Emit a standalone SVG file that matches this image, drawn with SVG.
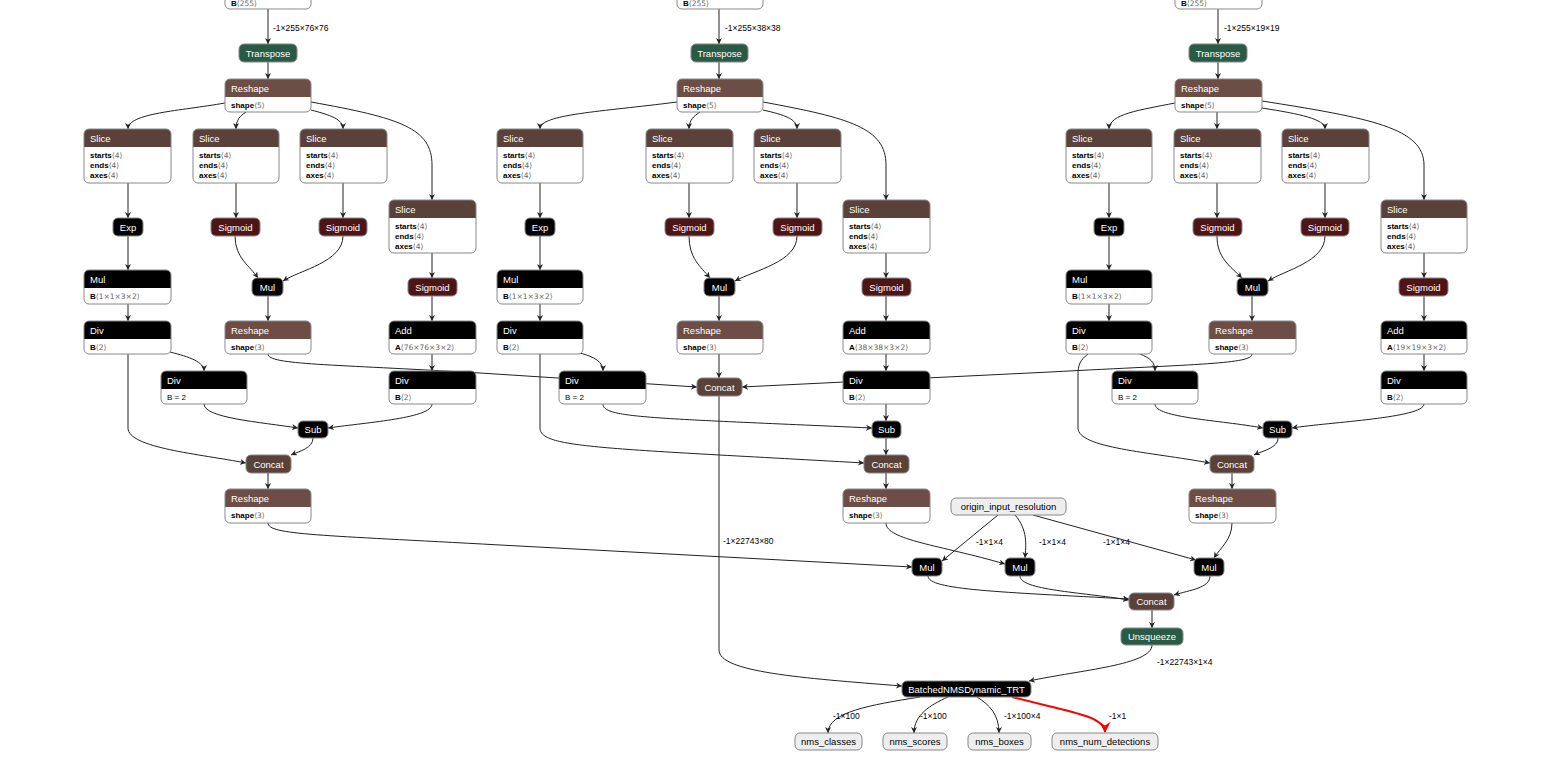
<svg xmlns="http://www.w3.org/2000/svg" width="1545" height="782" viewBox="0 0 1545 782">
<style>
text{font-family:"Liberation Sans","DejaVu Sans",sans-serif}
.bg{fill:#fff}
.bd{fill:none;stroke:#888;stroke-width:1}
.ten{fill:#5a4139}
.shp{fill:#6c4e46}
.act{fill:#4e1517}
.op{fill:#000}
.tr{fill:#285a46}
.io{fill:#eee;stroke:#888;stroke-width:1}
.t{font-size:9.5px;fill:#fff}
.tc{font-size:9.5px;fill:#fff;text-anchor:middle}
.to{font-size:9.5px;fill:#000;text-anchor:middle}
.a{font-size:8px;fill:#000}
.an{font-weight:bold;fill:#000}
.av{fill:#666;font-family:"DejaVu Sans","Liberation Sans",sans-serif;font-size:7.5px}
.el{font-size:8.5px;fill:#000}
.e{fill:none;stroke:#222;stroke-width:1;marker-end:url(#ah)}
.er{fill:none;stroke:#f00;stroke-width:2;marker-end:url(#ahr)}
</style>
<defs>
<marker id="ah" viewBox="0 0 10 10" refX="10" refY="5" markerWidth="6" markerHeight="6" orient="auto"><path d="M0,0 L10,5 L0,10 L3,5 z" fill="#222"/></marker>
<marker id="ahr" viewBox="0 0 10 10" refX="9" refY="5" markerWidth="11" markerHeight="11" markerUnits="userSpaceOnUse" orient="auto"><path d="M0,0 L10,5 L0,10 L3,5 z" fill="#f00"/></marker>
</defs>

<g id="connectors">
<path class="e" d="M268 9 V44"/>
<path class="e" d="M268 62 V79"/>
<path class="e" d="M225 103 C180 111 128 113 128 129"/>
<path class="e" d="M246 112 C240 116 236 120 236 129"/>
<path class="e" d="M311 110 C330 115 343 119 343 129"/>
<path class="e" d="M311 102 C400 118 432 128 432 165 V200"/>
<path class="e" d="M128 183 V218"/>
<path class="e" d="M236 183 V218"/>
<path class="e" d="M343 183 V218"/>
<path class="e" d="M432 253 V278"/>
<path class="e" d="M128 236 V270"/>
<path class="e" d="M235 236 C235 258 250 266 258 278"/>
<path class="e" d="M343 236 C343 262 300 270 283 281"/>
<path class="e" d="M128 304 V321"/>
<path class="e" d="M268 296 V321"/>
<path class="e" d="M432 296 V321"/>
<path class="e" d="M170 352 C190 357 204 362 204 371"/>
<path class="e" d="M128 354 V428 C128 448 200 454 246 463"/>
<path class="e" d="M432 354 V371"/>
<path class="e" d="M204 404 C204 418 260 422 298 428"/>
<path class="e" d="M432 404 C432 418 370 422 328 428"/>
<path class="e" d="M313 438 C313 448 300 451 291 455"/>
<path class="e" d="M268 473 V489"/>
<path class="e" d="M268 354 C268 365 330 364 480 373 L697 387"/>
<path class="e" d="M268 523 C268 535 320 535 500 545 L912 567"/>

<path class="e" d="M719 9 V44"/>
<path class="e" d="M719 62 V79"/>
<path class="e" d="M677 102 C600 112 540 114 540 129"/>
<path class="e" d="M700 112 C694 116 689 120 689 129"/>
<path class="e" d="M763 110 C785 115 797 119 797 129"/>
<path class="e" d="M763 102 C850 118 886 128 886 165 V200"/>
<path class="e" d="M540 183 V218"/>
<path class="e" d="M689 183 V218"/>
<path class="e" d="M797 183 V218"/>
<path class="e" d="M886 253 V278"/>
<path class="e" d="M540 236 V270"/>
<path class="e" d="M689 236 C689 258 700 266 710 278"/>
<path class="e" d="M797 236 C797 262 755 270 735 281"/>
<path class="e" d="M540 304 V321"/>
<path class="e" d="M719 296 V321"/>
<path class="e" d="M886 296 V321"/>
<path class="e" d="M580 353 C595 357 603 362 603 371"/>
<path class="e" d="M540 354 V428 C540 448 600 448 864 463"/>
<path class="e" d="M719 354 V378"/>
<path class="e" d="M886 354 V371"/>
<path class="e" d="M603 404 C603 418 650 418 872 428"/>
<path class="e" d="M886 404 V421"/>
<path class="e" d="M886 438 V455"/>
<path class="e" d="M886 473 V489"/>
<path class="e" d="M719 396 V650 C719 672 800 678 902 686"/>
<path class="e" d="M886 523 C886 540 940 545 1005 564"/>

<path class="e" d="M1218 9 V44"/>
<path class="e" d="M1218 62 V79"/>
<path class="e" d="M1175 103 C1140 110 1109 114 1109 129"/>
<path class="e" d="M1217 112 V129"/>
<path class="e" d="M1262 108 C1300 114 1325 119 1325 129"/>
<path class="e" d="M1262 101 C1370 118 1424 128 1424 165 V200"/>
<path class="e" d="M1109 183 V218"/>
<path class="e" d="M1217 183 V218"/>
<path class="e" d="M1325 183 V218"/>
<path class="e" d="M1424 253 V278"/>
<path class="e" d="M1109 236 V270"/>
<path class="e" d="M1217 236 C1217 258 1230 266 1242 278"/>
<path class="e" d="M1325 236 C1325 262 1285 270 1268 281"/>
<path class="e" d="M1109 304 V321"/>
<path class="e" d="M1252 296 V321"/>
<path class="e" d="M1424 296 V321"/>
<path class="e" d="M1140 354 C1150 358 1155 362 1155 371"/>
<path class="e" d="M1088 354 C1080 360 1078 365 1078 375 V428 C1078 448 1150 452 1210 463"/>
<path class="e" d="M1424 354 V371"/>
<path class="e" d="M1155 404 C1155 418 1220 420 1263 428"/>
<path class="e" d="M1424 404 C1424 418 1330 422 1292 428"/>
<path class="e" d="M1278 438 C1278 448 1262 451 1254 455"/>
<path class="e" d="M1232 473 V489"/>
<path class="e" d="M1252 354 C1252 364 1200 364 1050 372 L742 387"/>
<path class="e" d="M1232 523 C1232 540 1220 548 1214 558"/>

<path class="e" d="M998 515 L942 561"/>
<path class="e" d="M1015 515 C1028 530 1026 545 1025 558"/>
<path class="e" d="M1033 515 L1196 560"/>
<path class="e" d="M928 576 C928 590 1000 592 1129 599"/>
<path class="e" d="M1020 576 C1020 590 1080 592 1129 600"/>
<path class="e" d="M1210 576 C1210 588 1190 590 1174 595"/>
<path class="e" d="M1152 610 V628"/>
<path class="e" d="M1152 645 C1152 665 1080 670 1029 681"/>
<path class="e" d="M920 697 C870 705 828 712 828 733"/>
<path class="e" d="M948 697 C930 705 914 715 914 733"/>
<path class="e" d="M977 697 C990 705 999 715 999 733"/>
<path class="er" d="M1012 697 C1060 710 1105 715 1105 732"/>

<text class="el" x="273" y="31">-1×255×76×76</text>
<text class="el" x="725" y="31">-1×255×38×38</text>
<text class="el" x="1224" y="31">-1×255×19×19</text>
<text class="el" x="723" y="544">-1×22743×80</text>
<text class="el" x="976" y="545">-1×1×4</text>
<text class="el" x="1039" y="545">-1×1×4</text>
<text class="el" x="1103" y="545">-1×1×4</text>
<text class="el" x="1157" y="665">-1×22743×1×4</text>
<text class="el" x="833" y="719">-1×100</text>
<text class="el" x="920" y="719">-1×100</text>
<text class="el" x="1004" y="719">-1×100×4</text>
<text class="el" x="1109" y="719">-1×1</text>
</g>

<!-- Column A -->
<g id="topA"><rect class="bg" x="225" y="-20" width="86" height="29" rx="5"/><rect class="bd" x="225" y="-20" width="86" height="29" rx="5"/><text class="a" x="231" y="6"><tspan class="an">B</tspan><tspan class="av">⟨255⟩</tspan></text></g>
<g id="transA"><rect class="tr" x="239" y="44" width="58" height="18" rx="5"/><rect class="bd" x="239" y="44" width="58" height="18" rx="5"/><text class="tc" x="268" y="56.5">Transpose</text></g>
<g id="reshA1"><rect class="bg" x="225" y="79" width="86" height="33" rx="5"/><rect class="shp" x="225" y="79" width="86" height="18" rx="5"/><rect class="shp" x="225" y="89" width="86" height="8"/><rect class="bd" x="225" y="79" width="86" height="33" rx="5"/><text class="t" x="231" y="91.5">Reshape</text><text class="a" x="231" y="107.5"><tspan class="an">shape</tspan><tspan class="av">⟨5⟩</tspan></text></g>
<g id="sliceA1"><rect class="bg" x="84" y="129" width="87" height="54" rx="5"/><rect class="ten" x="84" y="129" width="87" height="18" rx="5"/><rect class="ten" x="84" y="139" width="87" height="8"/><rect class="bd" x="84" y="129" width="87" height="54" rx="5"/><text class="t" x="90" y="141.5">Slice</text><text class="a" x="90" y="157.5"><tspan class="an">starts</tspan><tspan class="av">⟨4⟩</tspan></text><text class="a" x="90" y="167.5"><tspan class="an">ends</tspan><tspan class="av">⟨4⟩</tspan></text><text class="a" x="90" y="177.5"><tspan class="an">axes</tspan><tspan class="av">⟨4⟩</tspan></text></g>
<g id="sliceA2"><rect class="bg" x="193" y="129" width="86" height="54" rx="5"/><rect class="ten" x="193" y="129" width="86" height="18" rx="5"/><rect class="ten" x="193" y="139" width="86" height="8"/><rect class="bd" x="193" y="129" width="86" height="54" rx="5"/><text class="t" x="199" y="141.5">Slice</text><text class="a" x="199" y="157.5"><tspan class="an">starts</tspan><tspan class="av">⟨4⟩</tspan></text><text class="a" x="199" y="167.5"><tspan class="an">ends</tspan><tspan class="av">⟨4⟩</tspan></text><text class="a" x="199" y="177.5"><tspan class="an">axes</tspan><tspan class="av">⟨4⟩</tspan></text></g>
<g id="sliceA3"><rect class="bg" x="300" y="129" width="87" height="54" rx="5"/><rect class="ten" x="300" y="129" width="87" height="18" rx="5"/><rect class="ten" x="300" y="139" width="87" height="8"/><rect class="bd" x="300" y="129" width="87" height="54" rx="5"/><text class="t" x="306" y="141.5">Slice</text><text class="a" x="306" y="157.5"><tspan class="an">starts</tspan><tspan class="av">⟨4⟩</tspan></text><text class="a" x="306" y="167.5"><tspan class="an">ends</tspan><tspan class="av">⟨4⟩</tspan></text><text class="a" x="306" y="177.5"><tspan class="an">axes</tspan><tspan class="av">⟨4⟩</tspan></text></g>
<g id="sliceA4"><rect class="bg" x="389" y="200" width="87" height="53" rx="5"/><rect class="ten" x="389" y="200" width="87" height="18" rx="5"/><rect class="ten" x="389" y="210" width="87" height="8"/><rect class="bd" x="389" y="200" width="87" height="53" rx="5"/><text class="t" x="395" y="212.5">Slice</text><text class="a" x="395" y="228.5"><tspan class="an">starts</tspan><tspan class="av">⟨4⟩</tspan></text><text class="a" x="395" y="238.5"><tspan class="an">ends</tspan><tspan class="av">⟨4⟩</tspan></text><text class="a" x="395" y="248.5"><tspan class="an">axes</tspan><tspan class="av">⟨4⟩</tspan></text></g>
<g id="expA"><rect class="op" x="113" y="218" width="30" height="18" rx="5"/><rect class="bd" x="113" y="218" width="30" height="18" rx="5"/><text class="tc" x="128" y="230.5">Exp</text></g>
<g id="sigA1"><rect class="act" x="211" y="218" width="49" height="18" rx="5"/><rect class="bd" x="211" y="218" width="49" height="18" rx="5"/><text class="tc" x="235.5" y="230.5">Sigmoid</text></g>
<g id="sigA2"><rect class="act" x="319" y="218" width="48" height="18" rx="5"/><rect class="bd" x="319" y="218" width="48" height="18" rx="5"/><text class="tc" x="343" y="230.5">Sigmoid</text></g>
<g id="mulA1"><rect class="bg" x="84" y="270" width="87" height="34" rx="5"/><rect class="op" x="84" y="270" width="87" height="18" rx="5"/><rect class="op" x="84" y="280" width="87" height="8"/><rect class="bd" x="84" y="270" width="87" height="34" rx="5"/><text class="t" x="90" y="282.5">Mul</text><text class="a" x="90" y="299"><tspan class="an">B</tspan><tspan class="av">⟨1×1×3×2⟩</tspan></text></g>
<g id="mulA2"><rect class="op" x="252" y="278" width="31" height="18" rx="5"/><rect class="bd" x="252" y="278" width="31" height="18" rx="5"/><text class="tc" x="267.5" y="290.5">Mul</text></g>
<g id="sigA3"><rect class="act" x="408" y="278" width="49" height="18" rx="5"/><rect class="bd" x="408" y="278" width="49" height="18" rx="5"/><text class="tc" x="432.5" y="290.5">Sigmoid</text></g>
<g id="divA1"><rect class="bg" x="84" y="321" width="87" height="33" rx="5"/><rect class="op" x="84" y="321" width="87" height="18" rx="5"/><rect class="op" x="84" y="331" width="87" height="8"/><rect class="bd" x="84" y="321" width="87" height="33" rx="5"/><text class="t" x="90" y="333.5">Div</text><text class="a" x="90" y="349.5"><tspan class="an">B</tspan><tspan class="av">⟨2⟩</tspan></text></g>
<g id="reshA2"><rect class="bg" x="225" y="321" width="86" height="33" rx="5"/><rect class="shp" x="225" y="321" width="86" height="18" rx="5"/><rect class="shp" x="225" y="331" width="86" height="8"/><rect class="bd" x="225" y="321" width="86" height="33" rx="5"/><text class="t" x="231" y="333.5">Reshape</text><text class="a" x="231" y="349.5"><tspan class="an">shape</tspan><tspan class="av">⟨3⟩</tspan></text></g>
<g id="addA"><rect class="bg" x="389" y="321" width="87" height="33" rx="5"/><rect class="op" x="389" y="321" width="87" height="18" rx="5"/><rect class="op" x="389" y="331" width="87" height="8"/><rect class="bd" x="389" y="321" width="87" height="33" rx="5"/><text class="t" x="395" y="333.5">Add</text><text class="a" x="395" y="349.5"><tspan class="an">A</tspan><tspan class="av">⟨76×76×3×2⟩</tspan></text></g>
<g id="divA2"><rect class="bg" x="161" y="371" width="86" height="33" rx="5"/><rect class="op" x="161" y="371" width="86" height="18" rx="5"/><rect class="op" x="161" y="381" width="86" height="8"/><rect class="bd" x="161" y="371" width="86" height="33" rx="5"/><text class="t" x="167" y="383.5">Div</text><text class="a" x="167" y="399.5">B = 2</text></g>
<g id="divA3"><rect class="bg" x="389" y="371" width="87" height="33" rx="5"/><rect class="op" x="389" y="371" width="87" height="18" rx="5"/><rect class="op" x="389" y="381" width="87" height="8"/><rect class="bd" x="389" y="371" width="87" height="33" rx="5"/><text class="t" x="395" y="383.5">Div</text><text class="a" x="395" y="399.5"><tspan class="an">B</tspan><tspan class="av">⟨2⟩</tspan></text></g>
<g id="subA"><rect class="op" x="298" y="421" width="30" height="17" rx="5"/><rect class="bd" x="298" y="421" width="30" height="17" rx="5"/><text class="tc" x="313" y="433">Sub</text></g>
<g id="concatA"><rect class="ten" x="246" y="455" width="45" height="18" rx="5"/><rect class="bd" x="246" y="455" width="45" height="18" rx="5"/><text class="tc" x="268.5" y="467.5">Concat</text></g>
<g id="reshA3"><rect class="bg" x="225" y="489" width="86" height="34" rx="5"/><rect class="shp" x="225" y="489" width="86" height="18" rx="5"/><rect class="shp" x="225" y="499" width="86" height="8"/><rect class="bd" x="225" y="489" width="86" height="34" rx="5"/><text class="t" x="231" y="501.5">Reshape</text><text class="a" x="231" y="518"><tspan class="an">shape</tspan><tspan class="av">⟨3⟩</tspan></text></g>

<!-- Column B -->
<g id="topB"><rect class="bg" x="677" y="-20" width="86" height="29" rx="5"/><rect class="bd" x="677" y="-20" width="86" height="29" rx="5"/><text class="a" x="683" y="6"><tspan class="an">B</tspan><tspan class="av">⟨255⟩</tspan></text></g>
<g id="transB"><rect class="tr" x="691" y="44" width="57" height="18" rx="5"/><rect class="bd" x="691" y="44" width="57" height="18" rx="5"/><text class="tc" x="719.5" y="56.5">Transpose</text></g>
<g id="reshB1"><rect class="bg" x="677" y="79" width="86" height="33" rx="5"/><rect class="shp" x="677" y="79" width="86" height="18" rx="5"/><rect class="shp" x="677" y="89" width="86" height="8"/><rect class="bd" x="677" y="79" width="86" height="33" rx="5"/><text class="t" x="683" y="91.5">Reshape</text><text class="a" x="683" y="107.5"><tspan class="an">shape</tspan><tspan class="av">⟨5⟩</tspan></text></g>
<g id="sliceB1"><rect class="bg" x="497" y="129" width="86" height="54" rx="5"/><rect class="ten" x="497" y="129" width="86" height="18" rx="5"/><rect class="ten" x="497" y="139" width="86" height="8"/><rect class="bd" x="497" y="129" width="86" height="54" rx="5"/><text class="t" x="503" y="141.5">Slice</text><text class="a" x="503" y="157.5"><tspan class="an">starts</tspan><tspan class="av">⟨4⟩</tspan></text><text class="a" x="503" y="167.5"><tspan class="an">ends</tspan><tspan class="av">⟨4⟩</tspan></text><text class="a" x="503" y="177.5"><tspan class="an">axes</tspan><tspan class="av">⟨4⟩</tspan></text></g>
<g id="sliceB2"><rect class="bg" x="646" y="129" width="87" height="54" rx="5"/><rect class="ten" x="646" y="129" width="87" height="18" rx="5"/><rect class="ten" x="646" y="139" width="87" height="8"/><rect class="bd" x="646" y="129" width="87" height="54" rx="5"/><text class="t" x="652" y="141.5">Slice</text><text class="a" x="652" y="157.5"><tspan class="an">starts</tspan><tspan class="av">⟨4⟩</tspan></text><text class="a" x="652" y="167.5"><tspan class="an">ends</tspan><tspan class="av">⟨4⟩</tspan></text><text class="a" x="652" y="177.5"><tspan class="an">axes</tspan><tspan class="av">⟨4⟩</tspan></text></g>
<g id="sliceB3"><rect class="bg" x="754" y="129" width="87" height="54" rx="5"/><rect class="ten" x="754" y="129" width="87" height="18" rx="5"/><rect class="ten" x="754" y="139" width="87" height="8"/><rect class="bd" x="754" y="129" width="87" height="54" rx="5"/><text class="t" x="760" y="141.5">Slice</text><text class="a" x="760" y="157.5"><tspan class="an">starts</tspan><tspan class="av">⟨4⟩</tspan></text><text class="a" x="760" y="167.5"><tspan class="an">ends</tspan><tspan class="av">⟨4⟩</tspan></text><text class="a" x="760" y="177.5"><tspan class="an">axes</tspan><tspan class="av">⟨4⟩</tspan></text></g>
<g id="sliceB4"><rect class="bg" x="843" y="200" width="87" height="53" rx="5"/><rect class="ten" x="843" y="200" width="87" height="18" rx="5"/><rect class="ten" x="843" y="210" width="87" height="8"/><rect class="bd" x="843" y="200" width="87" height="53" rx="5"/><text class="t" x="849" y="212.5">Slice</text><text class="a" x="849" y="228.5"><tspan class="an">starts</tspan><tspan class="av">⟨4⟩</tspan></text><text class="a" x="849" y="238.5"><tspan class="an">ends</tspan><tspan class="av">⟨4⟩</tspan></text><text class="a" x="849" y="248.5"><tspan class="an">axes</tspan><tspan class="av">⟨4⟩</tspan></text></g>
<g id="expB"><rect class="op" x="525" y="218" width="30" height="18" rx="5"/><rect class="bd" x="525" y="218" width="30" height="18" rx="5"/><text class="tc" x="540" y="230.5">Exp</text></g>
<g id="sigB1"><rect class="act" x="665" y="218" width="49" height="18" rx="5"/><rect class="bd" x="665" y="218" width="49" height="18" rx="5"/><text class="tc" x="689.5" y="230.5">Sigmoid</text></g>
<g id="sigB2"><rect class="act" x="773" y="218" width="49" height="18" rx="5"/><rect class="bd" x="773" y="218" width="49" height="18" rx="5"/><text class="tc" x="797.5" y="230.5">Sigmoid</text></g>
<g id="mulB1"><rect class="bg" x="497" y="270" width="86" height="34" rx="5"/><rect class="op" x="497" y="270" width="86" height="18" rx="5"/><rect class="op" x="497" y="280" width="86" height="8"/><rect class="bd" x="497" y="270" width="86" height="34" rx="5"/><text class="t" x="503" y="282.5">Mul</text><text class="a" x="503" y="299"><tspan class="an">B</tspan><tspan class="av">⟨1×1×3×2⟩</tspan></text></g>
<g id="mulB2"><rect class="op" x="704" y="278" width="31" height="18" rx="5"/><rect class="bd" x="704" y="278" width="31" height="18" rx="5"/><text class="tc" x="719.5" y="290.5">Mul</text></g>
<g id="sigB3"><rect class="act" x="862" y="278" width="49" height="18" rx="5"/><rect class="bd" x="862" y="278" width="49" height="18" rx="5"/><text class="tc" x="886.5" y="290.5">Sigmoid</text></g>
<g id="divB1"><rect class="bg" x="497" y="321" width="86" height="33" rx="5"/><rect class="op" x="497" y="321" width="86" height="18" rx="5"/><rect class="op" x="497" y="331" width="86" height="8"/><rect class="bd" x="497" y="321" width="86" height="33" rx="5"/><text class="t" x="503" y="333.5">Div</text><text class="a" x="503" y="349.5"><tspan class="an">B</tspan><tspan class="av">⟨2⟩</tspan></text></g>
<g id="reshB2"><rect class="bg" x="677" y="321" width="86" height="33" rx="5"/><rect class="shp" x="677" y="321" width="86" height="18" rx="5"/><rect class="shp" x="677" y="331" width="86" height="8"/><rect class="bd" x="677" y="321" width="86" height="33" rx="5"/><text class="t" x="683" y="333.5">Reshape</text><text class="a" x="683" y="349.5"><tspan class="an">shape</tspan><tspan class="av">⟨3⟩</tspan></text></g>
<g id="addB"><rect class="bg" x="843" y="321" width="87" height="33" rx="5"/><rect class="op" x="843" y="321" width="87" height="18" rx="5"/><rect class="op" x="843" y="331" width="87" height="8"/><rect class="bd" x="843" y="321" width="87" height="33" rx="5"/><text class="t" x="849" y="333.5">Add</text><text class="a" x="849" y="349.5"><tspan class="an">A</tspan><tspan class="av">⟨38×38×3×2⟩</tspan></text></g>
<g id="divB2"><rect class="bg" x="559" y="371" width="87" height="33" rx="5"/><rect class="op" x="559" y="371" width="87" height="18" rx="5"/><rect class="op" x="559" y="381" width="87" height="8"/><rect class="bd" x="559" y="371" width="87" height="33" rx="5"/><text class="t" x="565" y="383.5">Div</text><text class="a" x="565" y="399.5">B = 2</text></g>
<g id="concatBig"><rect class="ten" x="697" y="378" width="45" height="18" rx="5"/><rect class="bd" x="697" y="378" width="45" height="18" rx="5"/><text class="tc" x="719.5" y="390.5">Concat</text></g>
<g id="divB3"><rect class="bg" x="843" y="371" width="87" height="33" rx="5"/><rect class="op" x="843" y="371" width="87" height="18" rx="5"/><rect class="op" x="843" y="381" width="87" height="8"/><rect class="bd" x="843" y="371" width="87" height="33" rx="5"/><text class="t" x="849" y="383.5">Div</text><text class="a" x="849" y="399.5"><tspan class="an">B</tspan><tspan class="av">⟨2⟩</tspan></text></g>
<g id="subB"><rect class="op" x="872" y="421" width="29" height="17" rx="5"/><rect class="bd" x="872" y="421" width="29" height="17" rx="5"/><text class="tc" x="886.5" y="433">Sub</text></g>
<g id="concatB"><rect class="ten" x="864" y="455" width="45" height="18" rx="5"/><rect class="bd" x="864" y="455" width="45" height="18" rx="5"/><text class="tc" x="886.5" y="467.5">Concat</text></g>
<g id="reshB3"><rect class="bg" x="843" y="489" width="87" height="34" rx="5"/><rect class="shp" x="843" y="489" width="87" height="18" rx="5"/><rect class="shp" x="843" y="499" width="87" height="8"/><rect class="bd" x="843" y="489" width="87" height="34" rx="5"/><text class="t" x="849" y="501.5">Reshape</text><text class="a" x="849" y="518"><tspan class="an">shape</tspan><tspan class="av">⟨3⟩</tspan></text></g>

<!-- Column C -->
<g id="topC"><rect class="bg" x="1175" y="-20" width="87" height="29" rx="5"/><rect class="bd" x="1175" y="-20" width="87" height="29" rx="5"/><text class="a" x="1181" y="6"><tspan class="an">B</tspan><tspan class="av">⟨255⟩</tspan></text></g>
<g id="transC"><rect class="tr" x="1189" y="44" width="58" height="18" rx="5"/><rect class="bd" x="1189" y="44" width="58" height="18" rx="5"/><text class="tc" x="1218" y="56.5">Transpose</text></g>
<g id="reshC1"><rect class="bg" x="1175" y="79" width="87" height="33" rx="5"/><rect class="shp" x="1175" y="79" width="87" height="18" rx="5"/><rect class="shp" x="1175" y="89" width="87" height="8"/><rect class="bd" x="1175" y="79" width="87" height="33" rx="5"/><text class="t" x="1181" y="91.5">Reshape</text><text class="a" x="1181" y="107.5"><tspan class="an">shape</tspan><tspan class="av">⟨5⟩</tspan></text></g>
<g id="sliceC1"><rect class="bg" x="1066" y="129" width="86" height="54" rx="5"/><rect class="ten" x="1066" y="129" width="86" height="18" rx="5"/><rect class="ten" x="1066" y="139" width="86" height="8"/><rect class="bd" x="1066" y="129" width="86" height="54" rx="5"/><text class="t" x="1072" y="141.5">Slice</text><text class="a" x="1072" y="157.5"><tspan class="an">starts</tspan><tspan class="av">⟨4⟩</tspan></text><text class="a" x="1072" y="167.5"><tspan class="an">ends</tspan><tspan class="av">⟨4⟩</tspan></text><text class="a" x="1072" y="177.5"><tspan class="an">axes</tspan><tspan class="av">⟨4⟩</tspan></text></g>
<g id="sliceC2"><rect class="bg" x="1174" y="129" width="87" height="54" rx="5"/><rect class="ten" x="1174" y="129" width="87" height="18" rx="5"/><rect class="ten" x="1174" y="139" width="87" height="8"/><rect class="bd" x="1174" y="129" width="87" height="54" rx="5"/><text class="t" x="1180" y="141.5">Slice</text><text class="a" x="1180" y="157.5"><tspan class="an">starts</tspan><tspan class="av">⟨4⟩</tspan></text><text class="a" x="1180" y="167.5"><tspan class="an">ends</tspan><tspan class="av">⟨4⟩</tspan></text><text class="a" x="1180" y="177.5"><tspan class="an">axes</tspan><tspan class="av">⟨4⟩</tspan></text></g>
<g id="sliceC3"><rect class="bg" x="1282" y="129" width="87" height="54" rx="5"/><rect class="ten" x="1282" y="129" width="87" height="18" rx="5"/><rect class="ten" x="1282" y="139" width="87" height="8"/><rect class="bd" x="1282" y="129" width="87" height="54" rx="5"/><text class="t" x="1288" y="141.5">Slice</text><text class="a" x="1288" y="157.5"><tspan class="an">starts</tspan><tspan class="av">⟨4⟩</tspan></text><text class="a" x="1288" y="167.5"><tspan class="an">ends</tspan><tspan class="av">⟨4⟩</tspan></text><text class="a" x="1288" y="177.5"><tspan class="an">axes</tspan><tspan class="av">⟨4⟩</tspan></text></g>
<g id="sliceC4"><rect class="bg" x="1381" y="200" width="86" height="53" rx="5"/><rect class="ten" x="1381" y="200" width="86" height="18" rx="5"/><rect class="ten" x="1381" y="210" width="86" height="8"/><rect class="bd" x="1381" y="200" width="86" height="53" rx="5"/><text class="t" x="1387" y="212.5">Slice</text><text class="a" x="1387" y="228.5"><tspan class="an">starts</tspan><tspan class="av">⟨4⟩</tspan></text><text class="a" x="1387" y="238.5"><tspan class="an">ends</tspan><tspan class="av">⟨4⟩</tspan></text><text class="a" x="1387" y="248.5"><tspan class="an">axes</tspan><tspan class="av">⟨4⟩</tspan></text></g>
<g id="expC"><rect class="op" x="1094" y="218" width="30" height="18" rx="5"/><rect class="bd" x="1094" y="218" width="30" height="18" rx="5"/><text class="tc" x="1109" y="230.5">Exp</text></g>
<g id="sigC1"><rect class="act" x="1193" y="218" width="49" height="18" rx="5"/><rect class="bd" x="1193" y="218" width="49" height="18" rx="5"/><text class="tc" x="1217.5" y="230.5">Sigmoid</text></g>
<g id="sigC2"><rect class="act" x="1301" y="218" width="48" height="18" rx="5"/><rect class="bd" x="1301" y="218" width="48" height="18" rx="5"/><text class="tc" x="1325" y="230.5">Sigmoid</text></g>
<g id="mulC1"><rect class="bg" x="1066" y="270" width="86" height="34" rx="5"/><rect class="op" x="1066" y="270" width="86" height="18" rx="5"/><rect class="op" x="1066" y="280" width="86" height="8"/><rect class="bd" x="1066" y="270" width="86" height="34" rx="5"/><text class="t" x="1072" y="282.5">Mul</text><text class="a" x="1072" y="299"><tspan class="an">B</tspan><tspan class="av">⟨1×1×3×2⟩</tspan></text></g>
<g id="mulC2"><rect class="op" x="1237" y="278" width="31" height="18" rx="5"/><rect class="bd" x="1237" y="278" width="31" height="18" rx="5"/><text class="tc" x="1252.5" y="290.5">Mul</text></g>
<g id="sigC3"><rect class="act" x="1399" y="278" width="49" height="18" rx="5"/><rect class="bd" x="1399" y="278" width="49" height="18" rx="5"/><text class="tc" x="1423.5" y="290.5">Sigmoid</text></g>
<g id="divC1"><rect class="bg" x="1066" y="321" width="86" height="33" rx="5"/><rect class="op" x="1066" y="321" width="86" height="18" rx="5"/><rect class="op" x="1066" y="331" width="86" height="8"/><rect class="bd" x="1066" y="321" width="86" height="33" rx="5"/><text class="t" x="1072" y="333.5">Div</text><text class="a" x="1072" y="349.5"><tspan class="an">B</tspan><tspan class="av">⟨2⟩</tspan></text></g>
<g id="reshC2"><rect class="bg" x="1209" y="321" width="87" height="33" rx="5"/><rect class="shp" x="1209" y="321" width="87" height="18" rx="5"/><rect class="shp" x="1209" y="331" width="87" height="8"/><rect class="bd" x="1209" y="321" width="87" height="33" rx="5"/><text class="t" x="1215" y="333.5">Reshape</text><text class="a" x="1215" y="349.5"><tspan class="an">shape</tspan><tspan class="av">⟨3⟩</tspan></text></g>
<g id="addC"><rect class="bg" x="1381" y="321" width="86" height="33" rx="5"/><rect class="op" x="1381" y="321" width="86" height="18" rx="5"/><rect class="op" x="1381" y="331" width="86" height="8"/><rect class="bd" x="1381" y="321" width="86" height="33" rx="5"/><text class="t" x="1387" y="333.5">Add</text><text class="a" x="1387" y="349.5"><tspan class="an">A</tspan><tspan class="av">⟨19×19×3×2⟩</tspan></text></g>
<g id="divC2"><rect class="bg" x="1112" y="371" width="86" height="33" rx="5"/><rect class="op" x="1112" y="371" width="86" height="18" rx="5"/><rect class="op" x="1112" y="381" width="86" height="8"/><rect class="bd" x="1112" y="371" width="86" height="33" rx="5"/><text class="t" x="1118" y="383.5">Div</text><text class="a" x="1118" y="399.5">B = 2</text></g>
<g id="divC3"><rect class="bg" x="1381" y="371" width="86" height="33" rx="5"/><rect class="op" x="1381" y="371" width="86" height="18" rx="5"/><rect class="op" x="1381" y="381" width="86" height="8"/><rect class="bd" x="1381" y="371" width="86" height="33" rx="5"/><text class="t" x="1387" y="383.5">Div</text><text class="a" x="1387" y="399.5"><tspan class="an">B</tspan><tspan class="av">⟨2⟩</tspan></text></g>
<g id="subC"><rect class="op" x="1263" y="421" width="29" height="17" rx="5"/><rect class="bd" x="1263" y="421" width="29" height="17" rx="5"/><text class="tc" x="1277.5" y="433">Sub</text></g>
<g id="concatC"><rect class="ten" x="1210" y="455" width="44" height="18" rx="5"/><rect class="bd" x="1210" y="455" width="44" height="18" rx="5"/><text class="tc" x="1232" y="467.5">Concat</text></g>
<g id="reshC3"><rect class="bg" x="1189" y="489" width="87" height="34" rx="5"/><rect class="shp" x="1189" y="489" width="87" height="18" rx="5"/><rect class="shp" x="1189" y="499" width="87" height="8"/><rect class="bd" x="1189" y="489" width="87" height="34" rx="5"/><text class="t" x="1195" y="501.5">Reshape</text><text class="a" x="1195" y="518"><tspan class="an">shape</tspan><tspan class="av">⟨3⟩</tspan></text></g>

<!-- Bottom -->
<g id="origin"><rect class="io" x="951" y="498" width="115" height="17" rx="5"/><text class="to" x="1008.5" y="510">origin_input_resolution</text></g>
<g id="mulX"><rect class="op" x="912" y="558" width="30" height="18" rx="5"/><rect class="bd" x="912" y="558" width="30" height="18" rx="5"/><text class="tc" x="927" y="570.5">Mul</text></g>
<g id="mulY"><rect class="op" x="1005" y="558" width="30" height="18" rx="5"/><rect class="bd" x="1005" y="558" width="30" height="18" rx="5"/><text class="tc" x="1020" y="570.5">Mul</text></g>
<g id="mulZ"><rect class="op" x="1194" y="558" width="30" height="18" rx="5"/><rect class="bd" x="1194" y="558" width="30" height="18" rx="5"/><text class="tc" x="1209" y="570.5">Mul</text></g>
<g id="concatF"><rect class="ten" x="1129" y="593" width="45" height="17" rx="5"/><rect class="bd" x="1129" y="593" width="45" height="17" rx="5"/><text class="tc" x="1151.5" y="605">Concat</text></g>
<g id="unsqueeze"><rect class="tr" x="1121" y="628" width="62" height="17" rx="5"/><rect class="bd" x="1121" y="628" width="62" height="17" rx="5"/><text class="tc" x="1152" y="640">Unsqueeze</text></g>
<g id="nms"><rect class="op" x="902" y="681" width="129" height="16" rx="5"/><rect class="bd" x="902" y="681" width="129" height="16" rx="5"/><text class="tc" x="966.5" y="692.5">BatchedNMSDynamic_TRT</text></g>
<g id="out1"><rect class="io" x="795" y="733" width="67" height="17" rx="5"/><text class="to" x="828.5" y="745">nms_classes</text></g>
<g id="out2"><rect class="io" x="883" y="733" width="64" height="17" rx="5"/><text class="to" x="915" y="745">nms_scores</text></g>
<g id="out3"><rect class="io" x="968" y="733" width="63" height="17" rx="5"/><text class="to" x="999.5" y="745">nms_boxes</text></g>
<g id="out4"><rect class="io" x="1052" y="733" width="106" height="17" rx="5"/><text class="to" x="1105" y="745">nms_num_detections</text></g>
</svg>
